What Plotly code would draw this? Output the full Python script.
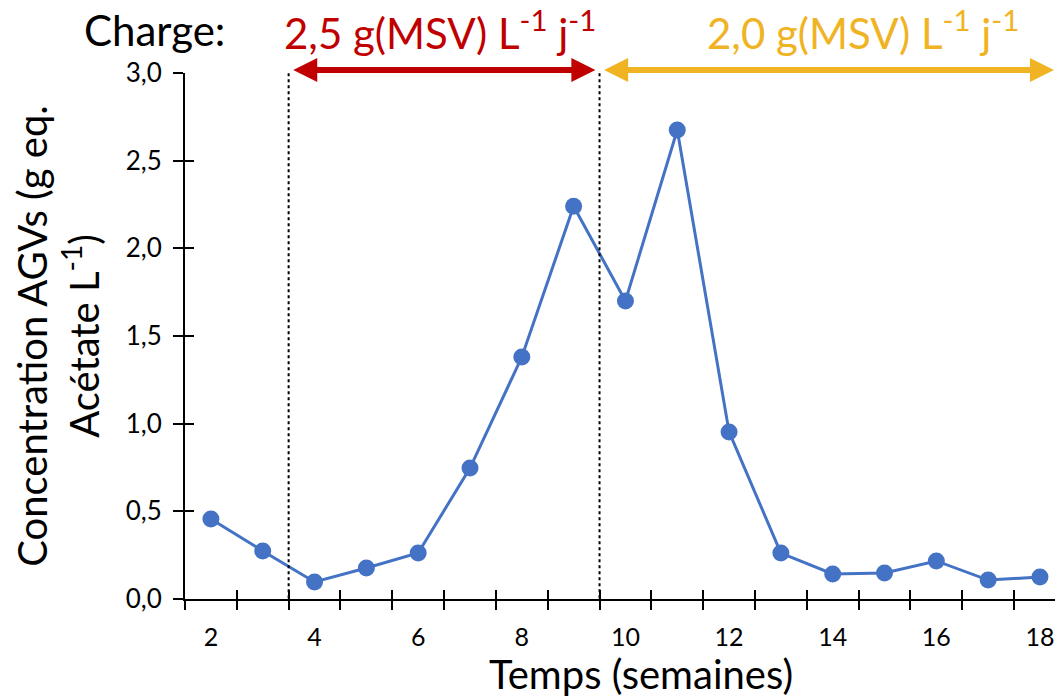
import plotly.graph_objects as go

weeks = list(range(2, 19))
agv = [0.456, 0.274, 0.097, 0.177, 0.262, 0.747, 1.38, 2.24, 1.70, 2.675,
       0.953, 0.262, 0.143, 0.148, 0.217, 0.108, 0.125]
x_tick_vals = [2, 4, 6, 8, 10, 12, 14, 16, 18]
y_tick_vals = [0, 0.5, 1.0, 1.5, 2.0, 2.5, 3.0]
y_tick_text = ["0,0", "0,5", "1,0", "1,5", "2,0", "2,5", "3,0"]
phase_bounds = [3.5, 9.5]
phase1_span = [3.56, 9.42]
phase2_span = [9.56, 18.27]
phase1_label = "2,5 g(MSV) L<sup>-1</sup> j<sup>-1</sup>"
phase2_label = "2,0 g(MSV) L<sup>-1</sup> j<sup>-1</sup>"
x_title = "Temps (semaines)"
y_title = "Concentration AGVs (g eq.<br>Acétate L<sup>-1</sup>)"

FONT = "Lato, 'Open Sans', sans-serif"
RED = "#C00000"
GOLD = "#F0B323"
BLUE = "#4472C4"
XR = [1.5, 18.29]
YR = [0, 3.0]

fig = go.Figure()
fig.add_trace(go.Scatter(
    x=weeks, y=agv, mode="lines+markers",
    line=dict(color=BLUE, width=3),
    marker=dict(color=BLUE, size=17),
    showlegend=False, cliponaxis=False))
fig.add_trace(go.Scatter(x=[None], y=[None], xaxis="x2", yaxis="y2", showlegend=False))

fig.update_layout(
    width=1055, height=698,
    margin=dict(l=185, r=0, t=73, b=99, autoexpand=False),
    paper_bgcolor="white", plot_bgcolor="white",
    font=dict(family=FONT, color="black"),
    xaxis=dict(
        range=XR, tickvals=x_tick_vals, ticks="outside", ticklen=9,
        tickcolor="rgba(0,0,0,0)", ticklabelstandoff=6, ticklabeloverflow="allow",
        tickfont=dict(size=25, family=FONT), showgrid=False, zeroline=False,
        showline=True, linecolor="black", linewidth=2,
        minor=dict(tick0=1.5, dtick=1, ticks="outside", ticklen=9,
                   tickcolor="black", tickwidth=2),
        automargin=False,
    ),
    yaxis=dict(
        range=YR, tickvals=y_tick_vals, ticktext=y_tick_text,
        ticks="outside", ticklen=10, tickwidth=2, tickcolor="black",
        ticklabelstandoff=6,
        tickfont=dict(size=26, family=FONT), showgrid=False, zeroline=False,
        showline=True, linecolor="black", linewidth=2,
        title=dict(text=y_title, font=dict(size=40, family=FONT), standoff=14),
        automargin=False,
    ),
    xaxis2=dict(overlaying="x", range=XR, tickvals=[1.5 + i for i in range(17)],
                ticks="inside", ticklen=9, tickwidth=2, tickcolor="black",
                showticklabels=False, showgrid=False, zeroline=False, side="bottom",
                anchor="y"),
    yaxis2=dict(overlaying="y", range=YR, tickvals=y_tick_vals,
                ticks="inside", ticklen=9, tickwidth=2, tickcolor="black",
                showticklabels=False, showgrid=False, zeroline=False, anchor="x"),
)

for xb in phase_bounds:
    fig.add_shape(type="line", xref="x", yref="y", x0=xb, x1=xb, y0=-0.03, y1=3.03,
                  line=dict(color="black", width=2, dash="dot"))

# header positions in page pixels -> paper coords
W_plot = 1055 - 185
H_plot = 599 - 73
def px(xp):
    return (xp - 185) / W_plot
def py(yp):
    return (599 - yp) / H_plot

for span, col in [(phase1_span, RED), (phase2_span, GOLD)]:
    fig.add_annotation(x=span[1], y=py(70), ax=span[0], ay=0, xref="x", yref="paper",
                       axref="x", ayref="pixel", text="", showarrow=True,
                       arrowhead=2, startarrowhead=2, arrowside="end+start",
                       arrowsize=0.8, startarrowsize=0.8, arrowwidth=6, arrowcolor=col)

fig.add_annotation(x=px(154), y=py(30), xref="paper", yref="paper", text="Charge:",
                   xanchor="center", yanchor="middle",
                   showarrow=False, font=dict(size=42, family=FONT, color="black"))
fig.add_annotation(x=px(440), y=py(30), xref="paper", yref="paper", text=phase1_label,
                   xanchor="center", yanchor="middle",
                   showarrow=False, font=dict(size=42, family=FONT, color=RED))
fig.add_annotation(x=px(863), y=py(30), xref="paper", yref="paper", text=phase2_label,
                   xanchor="center", yanchor="middle",
                   showarrow=False, font=dict(size=42, family=FONT, color=GOLD))
fig.add_annotation(x=px(641), y=py(674), xref="paper", yref="paper", text=x_title,
                   xanchor="center", yanchor="middle",
                   showarrow=False, font=dict(size=40, family=FONT, color="black"))

fig.write_html("out.html", config={"displayModeBar": False},
               post_script="document.body.style.margin='0';document.body.style.overflow='hidden';")
